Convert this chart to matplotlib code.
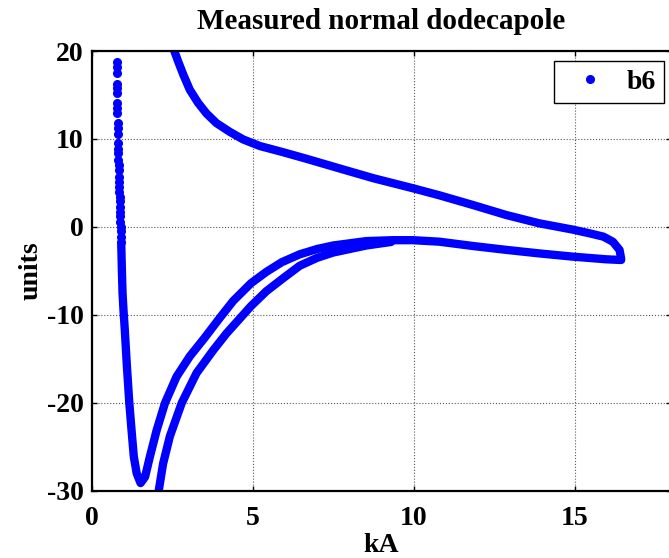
import numpy as np
import matplotlib
matplotlib.use('Agg')
import matplotlib.pyplot as plt

plt.rcParams['font.family'] = ['Liberation Serif', 'DejaVu Serif']
plt.rcParams['font.weight'] = 'bold'
plt.rcParams['axes.unicode_minus'] = False

# sparse dots at the start of the ramp
x_sparse = [0.77, 0.77, 0.77, 0.78, 0.78, 0.78, 0.79, 0.79, 0.79, 0.80, 0.80, 0.80,
            0.81, 0.81, 0.82, 0.82, 0.83, 0.83, 0.84, 0.84, 0.85, 0.85, 0.86, 0.86,
            0.87, 0.87, 0.88, 0.88, 0.89, 0.89, 0.90, 0.90]
y_sparse = [18.8, 18.2, 17.5, 16.3, 15.8, 15.2, 14.1, 13.5, 12.9, 11.8, 11.2, 10.6,
            9.5, 8.9, 8.4, 7.6, 7.0, 6.5, 5.7, 5.1, 4.6, 4.0, 3.4, 2.9,
            2.3, 1.7, 1.2, 0.6, 0.0, -0.5, -1.1, -1.7]

# down to the minimum, then up to the top current
x_up1 = [0.91, 0.92, 0.93, 0.95, 0.98, 1.02, 1.08, 1.16, 1.23, 1.30, 1.39, 1.51,
         1.65, 1.80, 2.01, 2.27, 2.63, 3.04, 3.50, 3.98, 4.39, 4.94, 5.42, 5.90, 6.46,
         7.00, 7.50, 8.53, 9.36, 9.98, 10.8, 11.84, 12.88, 13.9, 14.95, 15.98, 16.45]
y_up1 = [-2.0, -3.5, -5.0, -7.5, -9.5, -11.7, -15.5, -20.0, -23.1, -26.1, -28.0, -29.1,
         -28.4, -26.1, -23.1, -20.0, -17.0, -14.7, -12.6, -10.3, -8.4, -6.4, -5.1, -4.0, -3.1,
         -2.5, -2.1, -1.6, -1.5, -1.5, -1.67, -2.16, -2.6, -3.0, -3.37, -3.67, -3.75]

# ramp down
x_down = [16.45, 16.4, 16.19, 15.9, 15.47, 14.95, 13.9, 12.88, 11.84, 10.8, 9.98, 8.74,
          7.7, 6.67, 5.94, 5.22, 4.70, 4.29, 3.87, 3.56, 3.30, 3.04, 2.84, 2.68, 2.55, 2.48]
y_down = [-3.6, -2.6, -1.67, -1.1, -0.72, -0.3, 0.42, 1.36, 2.5, 3.6, 4.4, 5.55,
          6.65, 7.75, 8.5, 9.2, 9.95, 10.8, 11.8, 12.9, 14.1, 15.6, 17.3, 18.8, 20.1, 21.0]

# second ramp up
x_up2 = [2.0, 2.06, 2.21, 2.42, 2.79, 3.25, 3.77, 4.18, 4.94, 5.42, 5.95, 6.46, 7.0, 7.5, 8.53, 9.3]
y_up2 = [-31.5, -30.3, -26.9, -23.8, -20.0, -16.6, -14.0, -12.1, -9.0, -7.3, -5.8, -4.4, -3.5, -2.9, -2.1, -1.7]

blue = (0, 0, 1)
fig = plt.figure(figsize=(6.69, 5.58), dpi=100)
ax = fig.add_axes([0.1375, 0.1201, 0.8655, 0.7885])

for xs, ys in [(x_up1, y_up1), (x_down, y_down), (x_up2, y_up2)]:
    ax.plot(xs, ys, '-', color=blue, lw=6, solid_capstyle='round', solid_joinstyle='round')
ax.plot(x_sparse, y_sparse, 'o', color=blue, ms=5.5, mec=blue, label='b6')

ax.set_xlim(0, 18)
ax.set_ylim(-30, 20)
ax.set_xticks([0, 5, 10, 15])
ax.set_yticks([-30, -20, -10, 0, 10, 20])
ax.grid(True, linestyle=':', color='0.35', lw=0.8)
ax.tick_params(direction='in', top=True, right=True, length=3.6, width=1,
               labelsize=20, pad=6)
ax.tick_params(axis='x', pad=11)
for lab in ax.get_xticklabels() + ax.get_yticklabels():
    lab.set_fontweight('bold')
for s in ax.spines.values():
    s.set_linewidth(1.6)

ax.set_title('Measured normal dodecapole', fontsize=21, fontweight='bold', pad=16)
ax.set_xlabel('kA', fontsize=20, fontweight='bold', labelpad=1)
ax.set_ylabel('units', fontsize=20, fontweight='bold', labelpad=2)

leg = ax.legend(loc='upper right', bbox_to_anchor=(0.988, 0.977), borderaxespad=0,
                prop={'size': 20, 'weight': 'bold'}, fancybox=False, framealpha=1,
                edgecolor='black', handlelength=2.0, handletextpad=0.3, borderpad=0.3)
leg.get_frame().set_linewidth(1.0)

fig.savefig('out.png', dpi=100)
